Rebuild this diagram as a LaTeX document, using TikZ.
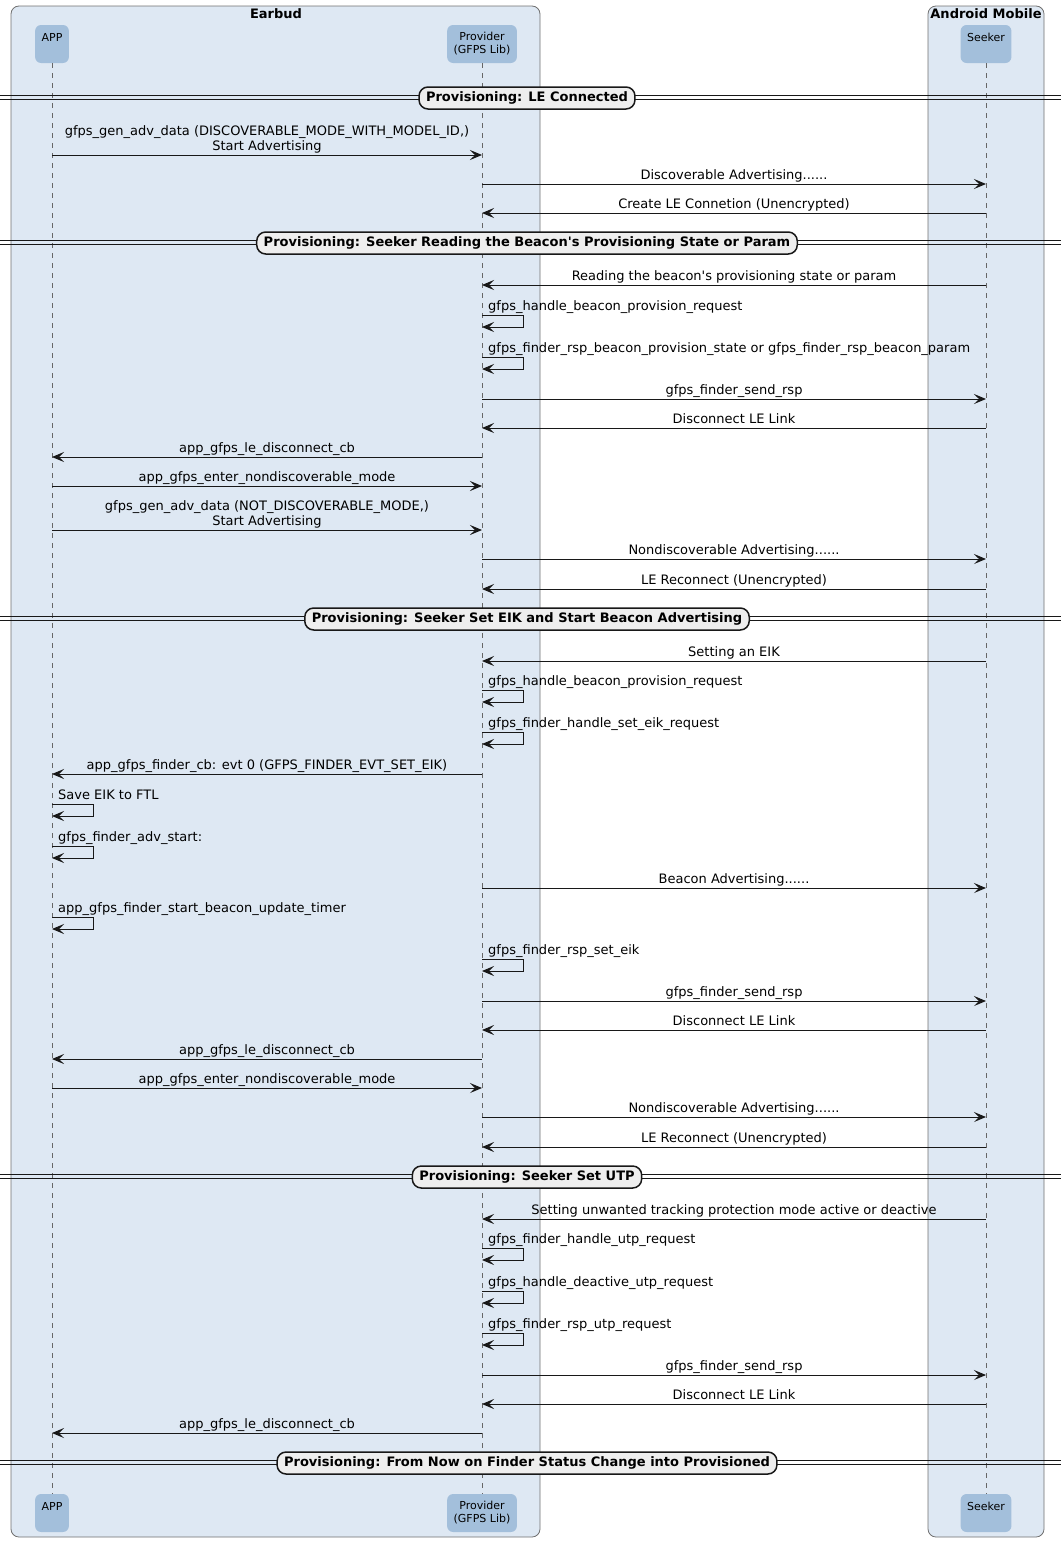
\documentclass[tikz,border=0pt]{standalone}
\usepackage{fontspec}
\setmainfont{DejaVu Sans}
\usetikzlibrary{arrows.meta}

\definecolor{boxblue}{HTML}{DEE8F3}
\definecolor{partblue}{HTML}{A3BFDB}
\definecolor{divgray}{HTML}{EEEEEE}
\definecolor{ink}{HTML}{181818}
\definecolor{lifegray}{HTML}{666666}
\definecolor{boxline}{HTML}{707070}

\tikzset{
  grp/.style={draw=boxline, fill=boxblue, line width=0.8pt, rounded corners=8pt},
  grptitle/.style={anchor=base, inner sep=0pt, font=\fontsize{13}{15}\selectfont\bfseries},
  part/.style={fill=partblue, rounded corners=6pt, minimum height=38pt, inner xsep=6.5pt, inner ysep=0pt,
    align=center, font=\fontsize{11}{13}\selectfont},
  life/.style={draw=lifegray, line width=0.6pt, dash pattern=on 5pt off 5pt},
  msg/.style={-{Stealth[length=12pt,width=10pt,inset=5pt]}, draw=ink, fill=none, line width=1pt},
  lbl/.style={anchor=base, yshift=5pt, inner sep=0pt, align=center, font=\fontsize{13}{15}\selectfont},
  slbl/.style={anchor=base west, inner sep=0pt, font=\fontsize{13}{15}\selectfont},
  dline/.style={draw=ink, line width=1pt},
  divlbl/.style={draw=ink, fill=divgray, line width=1.5pt, rounded corners=9pt, minimum height=22pt,
    inner xsep=7pt, inner ysep=2pt, yshift=-1pt, font=\fontsize{13}{15}\selectfont\bfseries},
}

\begin{document}
\begin{tikzpicture}[x=1pt,y=-1pt]
    \useasboundingbox (0,0) rectangle (1061,1542);

    % constants
    \def\ytop{44}
    \def\ybot{1513}
    \def\msg#1#2#3#4{\draw [msg] (#1 |- 0,#3) -- node [lbl] {#4} (#2 |- 0,#3);}
    \def\selfmsg#1#2#3{\draw [msg] (#1 |- 0,#2) -- ++(41,0) -- ++(0,12) -- ++(-41,0);
        \path (#1 |- 0,#2) ++(6,-5) node [slbl] {#3};}
    \def\divider#1#2{\draw [dline] (0,#1-2) -- (1061,#1-2); \draw [dline] (0,#1+2) -- (1061,#1+2);
        \node [divlbl] at (527,#1) {#2};}

    % boxes
    \draw [grp] (11,6) rectangle (540,1537);
    \draw [grp] (928,6) rectangle (1044,1537);
    \node [grptitle] (earbud) at (276,18) {Earbud};
    \node [grptitle] (android) at (986,18) {Android Mobile};

    % participants
    \node [part] (appT) at (52,\ytop) {APP\\\mbox{}};
    \node [part] (provT) at (482,\ytop) {Provider\\(GFPS Lib)};
    \node [part] (seekT) at (986,\ytop) {Seeker\\\mbox{}};
    \node [part] (appB) at (52,\ybot) {APP\\\mbox{}};
    \node [part] (provB) at (482,\ybot) {Provider\\(GFPS Lib)};
    \node [part] (seekB) at (986,\ybot) {Seeker\\\mbox{}};
    \draw [life] (appT) -- (appB);
    \draw [life] (provT) -- (provB);
    \draw [life] (seekT) -- (seekB);

    % LE connected
    \divider{97}{Provisioning: LE Connected}
    \msg{appT}{provT}{155}{gfps\_gen\_adv\_data (DISCOVERABLE\_MODE\_WITH\_MODEL\_ID,)\\Start Advertising}
    \msg{provT}{seekT}{184}{Discoverable Advertising......}
    \msg{seekT}{provT}{213}{Create LE Connetion (Unencrypted)}

    % reading state
    \divider{242}{Provisioning: Seeker Reading the Beacon\textquotesingle s Provisioning State or Param}
    \msg{seekT}{provT}{285}{Reading the beacon\textquotesingle s provisioning state or param}
    \selfmsg{provT}{315}{gfps\_handle\_beacon\_provision\_request}
    \selfmsg{provT}{357}{gfps\_finder\_rsp\_beacon\_provision\_state or gfps\_finder\_rsp\_beacon\_param}
    \msg{provT}{seekT}{399}{gfps\_finder\_send\_rsp}
    \msg{seekT}{provT}{428}{Disconnect LE Link}
    \msg{provT}{appT}{457}{app\_gfps\_le\_disconnect\_cb}
    \msg{appT}{provT}{486}{app\_gfps\_enter\_nondiscoverable\_mode}
    \msg{appT}{provT}{530}{gfps\_gen\_adv\_data (NOT\_DISCOVERABLE\_MODE,)\\Start Advertising}
    \msg{provT}{seekT}{559}{Nondiscoverable Advertising......}
    \msg{seekT}{provT}{589}{LE Reconnect (Unencrypted)}

    % set EIK
    \divider{618}{Provisioning: Seeker Set EIK and Start Beacon Advertising}
    \msg{seekT}{provT}{661}{Setting an EIK}
    \selfmsg{provT}{690}{gfps\_handle\_beacon\_provision\_request}
    \selfmsg{provT}{732}{gfps\_finder\_handle\_set\_eik\_request}
    \msg{provT}{appT}{774}{app\_gfps\_finder\_cb: evt 0 (GFPS\_FINDER\_EVT\_SET\_EIK)}
    \selfmsg{appT}{804}{Save EIK to FTL}
    \selfmsg{appT}{846}{gfps\_finder\_adv\_start:}
    \msg{provT}{seekT}{888}{Beacon Advertising......}
    \selfmsg{appT}{917}{app\_gfps\_finder\_start\_beacon\_update\_timer}
    \selfmsg{provT}{959}{gfps\_finder\_rsp\_set\_eik}
    \msg{provT}{seekT}{1001}{gfps\_finder\_send\_rsp}
    \msg{seekT}{provT}{1030}{Disconnect LE Link}
    \msg{provT}{appT}{1059}{app\_gfps\_le\_disconnect\_cb}
    \msg{appT}{provT}{1088}{app\_gfps\_enter\_nondiscoverable\_mode}
    \msg{provT}{seekT}{1117}{Nondiscoverable Advertising......}
    \msg{seekT}{provT}{1147}{LE Reconnect (Unencrypted)}

    % set UTP
    \divider{1176}{Provisioning: Seeker Set UTP}
    \msg{seekT}{provT}{1219}{Setting unwanted tracking protection mode active or deactive}
    \selfmsg{provT}{1248}{gfps\_finder\_handle\_utp\_request}
    \selfmsg{provT}{1291}{gfps\_handle\_deactive\_utp\_request}
    \selfmsg{provT}{1333}{gfps\_finder\_rsp\_utp\_request}
    \msg{provT}{seekT}{1375}{gfps\_finder\_send\_rsp}
    \msg{seekT}{provT}{1404}{Disconnect LE Link}
    \msg{provT}{appT}{1433}{app\_gfps\_le\_disconnect\_cb}

    \divider{1462}{Provisioning: From Now on Finder Status Change into Provisioned}

\end{tikzpicture}
\end{document}
